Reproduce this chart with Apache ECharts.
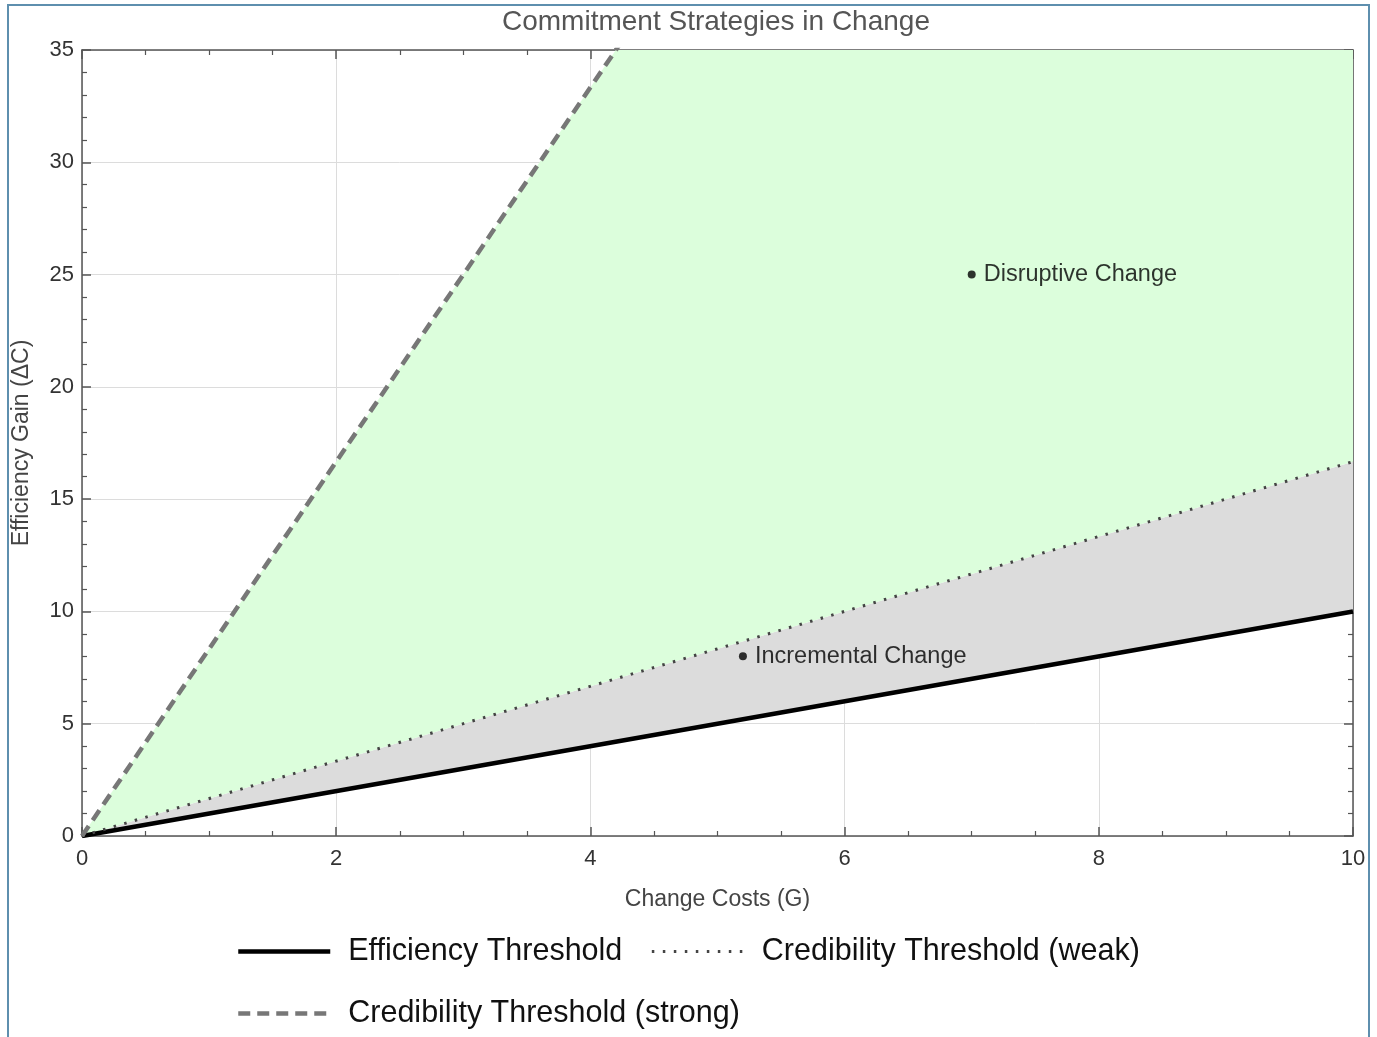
<!DOCTYPE html>
<html>
<head>
<meta charset="utf-8">
<script src="https://cdn.jsdelivr.net/npm/echarts@6/dist/echarts.min.js"></script>
<style>
html,body{margin:0;padding:0;background:#fff;}
#chart{width:1377px;height:1037px;}
</style>
</head>
<body>
<div id="chart"></div>
<script>
// ---- data ----
const costX = [0, 10];
const efficiencyThreshold = [0, 10];
const credibilityWeak = [0, 16.67];
const credibilityStrong = [0, 83.33];
const xTicks = [0, 2, 4, 6, 8, 10];
const yTicks = [0, 5, 10, 15, 20, 25, 30, 35];
const annotationNames = ['Disruptive Change', 'Incremental Change'];
const annotationX = [7, 5.2];
const annotationY = [25, 8];

const toPts = (xs, ys) => xs.map((x, i) => [x, ys[i]]);
const effPts = toPts(costX, efficiencyThreshold);
const weakPts = toPts(costX, credibilityWeak);
const strongPts = toPts(costX, credibilityStrong);

function polygonSeries(lower, upper, color) {
  const verts = lower.concat(upper.slice().reverse());
  return {
    type: 'custom',
    clip: true,
    silent: true,
    z: 1,
    data: verts,
    renderItem: function (params, api) {
      if (params.dataIndex !== 0) return null;
      const pts = verts.map(v => api.coord(v));
      return { type: 'polygon', shape: { points: pts }, style: { fill: color } };
    }
  };
}

const FONT = '"Liberation Sans", Arial, sans-serif';
const chart = echarts.init(document.getElementById('chart'));

const axisCommon = {
  axisLine: { show: true, onZero: false, lineStyle: { color: '#555', width: 1.5 } },
  axisTick: { show: true, inside: true, length: 9, lineStyle: { color: '#555', width: 1.5 } },
  minorTick: { show: true, length: 5, lineStyle: { color: '#555', width: 1.2 } }
};

const legendText = { fontFamily: FONT, fontSize: 30.5, color: '#111', padding: [0, 0, 0, 13] };

chart.setOption({
  backgroundColor: '#fff',
  animation: false,
  title: {
    text: 'Commitment Strategies in Change',
    left: 502, top: 8, padding: 0,
    textStyle: { fontFamily: FONT, fontSize: 28, fontWeight: 'normal', color: '#555' }
  },
  grid: { left: 82, right: 24, top: 50, bottom: 201 },
  xAxis: [
    Object.assign({}, axisCommon, {
      type: 'value', min: 0, max: 10, interval: 2, position: 'bottom',
      minorTick: Object.assign({}, axisCommon.minorTick, { splitNumber: 4 }),
      name: 'Change Costs (G)', nameLocation: 'middle', nameGap: 52,
      nameTextStyle: { fontFamily: FONT, fontSize: 23, color: '#444' },
      axisLabel: { fontFamily: FONT, fontSize: 22, color: '#333', margin: 12,
        formatter: v => xTicks.includes(v) ? String(v) : '' },
      splitLine: { show: true, lineStyle: { color: '#dcdcdc', width: 1 } }
    }),
    Object.assign({}, axisCommon, {
      type: 'value', min: 0, max: 10, interval: 2, position: 'top',
      minorTick: Object.assign({}, axisCommon.minorTick, { splitNumber: 4 }),
      axisLabel: { show: false }, splitLine: { show: false }
    })
  ],
  yAxis: [
    Object.assign({}, axisCommon, {
      type: 'value', min: 0, max: 35, interval: 5, position: 'left',
      minorTick: Object.assign({}, axisCommon.minorTick, { splitNumber: 5 }),
      name: 'Efficiency Gain (ΔC)', nameLocation: 'middle', nameGap: 49,
      nameTextStyle: { fontFamily: FONT, fontSize: 23, color: '#444' },
      axisLabel: { fontFamily: FONT, fontSize: 22, color: '#333', margin: 8,
        formatter: v => yTicks.includes(v) ? String(v) : '' },
      splitLine: { show: true, lineStyle: { color: '#dcdcdc', width: 1 } }
    }),
    Object.assign({}, axisCommon, {
      type: 'value', min: 0, max: 35, interval: 5, position: 'right',
      minorTick: Object.assign({}, axisCommon.minorTick, { splitNumber: 5 }),
      axisLabel: { show: false }, splitLine: { show: false }
    })
  ],
  legend: [
    {
      data: [
        { name: 'Efficiency Threshold', lineStyle: { width: 4.5 } },
        { name: 'Credibility Threshold (weak)', lineStyle: { width: 3 } }
      ],
      left: 231, top: 931, itemWidth: 92, itemHeight: 34, itemGap: 28,
      itemStyle: { opacity: 0 },
      textStyle: legendText
    },
    {
      data: [{ name: 'Credibility Threshold (strong)', lineStyle: { width: 4.5 } }],
      left: 231, top: 993, itemWidth: 92, itemHeight: 34,
      itemStyle: { opacity: 0 },
      textStyle: legendText
    }
  ],
  graphic: [{
    type: 'rect', z: 100, silent: true,
    shape: { x: 8, y: 5, width: 1361, height: 1060 },
    style: { fill: null, stroke: '#5e8fae', lineWidth: 2 }
  }],
  series: [
    polygonSeries(effPts, weakPts, '#dcdcdc'),
    polygonSeries(weakPts, strongPts, '#dcfedc'),
    {
      name: 'Efficiency Threshold', type: 'line', data: effPts, symbol: 'none', z: 5,
      lineStyle: { color: '#000', width: 4.5 }, itemStyle: { color: '#000' }
    },
    {
      name: 'Credibility Threshold (weak)', type: 'line', data: weakPts, symbol: 'none', z: 5,
      lineStyle: { color: '#444', width: 3, type: [2.5, 8.5] }, itemStyle: { color: '#444' }
    },
    {
      name: 'Credibility Threshold (strong)', type: 'line', data: strongPts, symbol: 'none', z: 5,
      clip: true,
      lineStyle: { color: '#777', width: 4.5, type: [12, 7] }, itemStyle: { color: '#777' }
    },
    {
      type: 'scatter', z: 6, symbolSize: 8, silent: true,
      itemStyle: { color: '#000' },
      data: annotationNames.map((n, i) => ({ name: n, value: [annotationX[i], annotationY[i]] })),
      label: { show: true, position: 'right', distance: 8, formatter: p => p.name,
        fontFamily: FONT, fontSize: 23.5, color: '#000' }
    }
  ]
});
</script>
</body>
</html>
